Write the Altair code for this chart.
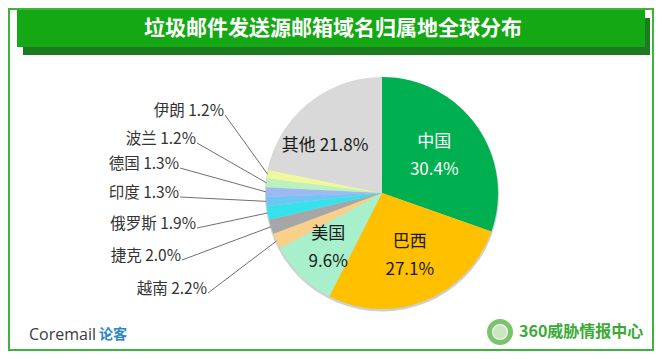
import altair as alt
import pandas as pd
import numpy as np

# ---------------- data ----------------
countries = ["中国", "巴西", "美国", "越南", "捷克", "俄罗斯", "印度", "德国", "波兰", "伊朗", "其他"]
shares = [30.4, 27.1, 9.6, 2.2, 2.0, 1.9, 1.3, 1.3, 1.2, 1.2, 21.8]
colors = ["#00B050", "#FFC000", "#A8F0CC", "#F8D08A", "#A6A6A6", "#35E2EC",
          "#6EC6F4", "#9DB8F2", "#B9F2BE", "#EEF8A0", "#D9D9D9"]

title_text = "垃圾邮件发送源邮箱域名归属地全球分布"

# ---------------- layout ----------------
W, H = 646, 343
CX, CY, R = 374, 185, 116
FONT = "Noto Sans CJK SC"
LINE_H = 28

# outside labels: anchor of leader line (start of line, right end of text)
out_names = ["伊朗", "波兰", "德国", "印度", "俄罗斯", "捷克", "越南"]
out_lx = [217, 189, 172, 172, 189, 174, 200]
out_ly = [107, 135, 160, 189, 220, 252, 285]

# inside labels: radius from centre and angular nudge (degrees)
in_names = ["中国", "巴西", "美国", "其他"]
in_radius = [64, 69, 77, 74]
in_turn = [0, -2, 0, -11]
in_color = ["#FFFFFF", "#1A1A1A", "#1A1A1A", "#1A1A1A"]

df = pd.DataFrame({"country": countries, "share": shares, "order": range(len(countries))})
df["pct"] = df["share"].map(lambda v: f"{v:.1f}%")
cum = df["share"].cumsum()
df["mid"] = (cum - df["share"] / 2) / df["share"].sum() * 2 * np.pi

# leader lines + outside labels
od = pd.DataFrame({"country": out_names, "lx": out_lx, "ly": out_ly}).merge(df, on="country")
od["ex"] = CX + R * np.sin(od["mid"])
od["ey"] = CY - R * np.cos(od["mid"])
od["tx"] = od["lx"] - 1
od["ty"] = od["ly"] - 4
od["label"] = od["country"] + " " + od["pct"]

# inside labels
idf = pd.DataFrame({"country": in_names, "rad": in_radius, "turn": in_turn, "tc": in_color}).merge(df, on="country")
ang = idf["mid"] + np.radians(idf["turn"])
multi = idf["country"] != "其他"
idf["tx"] = CX + idf["rad"] * np.sin(ang)
idf["ty"] = CY - idf["rad"] * np.cos(ang) - np.where(multi, LINE_H / 2, 0)
idf["label"] = np.where(multi,
                        idf["country"] + "\n" + idf["pct"],
                        idf["country"] + " " + idf["pct"])

one = pd.DataFrame({"k": [0]})

# ---------------- layers ----------------
frame = alt.Chart(one).mark_rect(fillOpacity=0, stroke="#3DB43D", strokeWidth=2).encode(
    x=alt.value(1), x2=alt.value(645), y=alt.value(1), y2=alt.value(342))

bar_shadow = alt.Chart(one).mark_rect(color="#1E7A1E").encode(
    x=alt.value(15), x2=alt.value(642), y=alt.value(10), y2=alt.value(47))
bar = alt.Chart(one).mark_rect(color="#14A814").encode(
    x=alt.value(9), x2=alt.value(637), y=alt.value(2), y2=alt.value(39))
title = alt.Chart(one).mark_text(
    text=title_text, font=FONT, fontSize=21, fontWeight="bold", color="white",
    align="center", baseline="middle").encode(x=alt.value(325), y=alt.value(21))

pie_shadow = alt.Chart(one).mark_arc(outerRadius=R + 1, color="#BBBBBB", opacity=0.7).encode(
    theta=alt.value(2 * np.pi), x=alt.value(CX), y=alt.value(CY + 1.5))

pie = alt.Chart(df).mark_arc(outerRadius=R).encode(
    theta=alt.Theta("share:Q", stack=True),
    order=alt.Order("order:Q"),
    color=alt.Color("country:N", scale=alt.Scale(domain=countries, range=colors), legend=None),
    x=alt.value(CX), y=alt.value(CY))

leaders = alt.Chart(od).mark_rule(color="#6F6F6F", strokeWidth=1).encode(
    x=alt.X("lx:Q", scale=None), y=alt.Y("ly:Q", scale=None),
    x2="ex:Q", y2="ey:Q")

out_text = alt.Chart(od).mark_text(
    font=FONT, fontSize=15.5, color="#333333", align="right", baseline="middle").encode(
    x=alt.X("tx:Q", scale=None), y=alt.Y("ty:Q", scale=None), text="label:N")

in_text = alt.Chart(idf).mark_text(
    font=FONT, fontSize=17, align="center", baseline="middle", lineBreak="\n", lineHeight=LINE_H).encode(
    x=alt.X("tx:Q", scale=None), y=alt.Y("ty:Q", scale=None), text="label:N",
    color=alt.Color("tc:N", scale=None))

core = alt.Chart(one).mark_text(
    text="Coremail", font="Open Sans", fontSize=16, color="#3A3A3A",
    align="left", baseline="middle").encode(x=alt.value(21), y=alt.value(327))
lunke = alt.Chart(one).mark_text(
    text="论客", font=FONT, fontSize=14, fontWeight="bold", color="#2E86C8",
    align="left", baseline="middle").encode(x=alt.value(91), y=alt.value(327))

logo_ring = alt.Chart(one).mark_arc(innerRadius=8, outerRadius=13, color="#7CC36E").encode(
    theta=alt.value(2 * np.pi), x=alt.value(492), y=alt.value(324))
logo_globe = alt.Chart(one).mark_arc(outerRadius=7, color="#C9E8C2").encode(
    theta=alt.value(2 * np.pi), x=alt.value(492), y=alt.value(324))
brand = alt.Chart(one).mark_text(
    text="360威胁情报中心", font=FONT, fontSize=16, fontWeight="bold", color="#3AAA35",
    align="left", baseline="middle").encode(x=alt.value(511), y=alt.value(324))

chart = alt.layer(
    frame, bar_shadow, bar, title, pie_shadow, pie, leaders, out_text, in_text,
    core, lunke, logo_ring, logo_globe, brand
).properties(
    width=W, height=H, padding=0, autosize=alt.AutoSizeParams(type="none"),
    background="white"
).configure_view(stroke=None)

chart.save("out.html", embed_options={"renderer": "svg", "actions": False})
